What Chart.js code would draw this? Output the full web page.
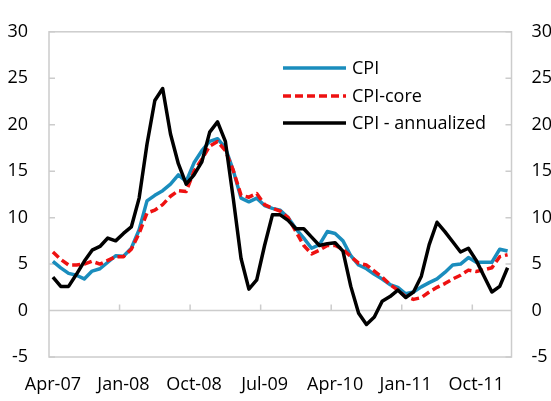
<!DOCTYPE html>
<html lang="en">
<head>
    <meta charset="UTF-8">
    <title>CPI, CPI-core and CPI - annualized</title>
    <script src="https://cdn.jsdelivr.net/npm/chart.js"></script>
    <style>
        body {
            margin: 0;
            padding: 0;
            background: #ffffff;
        }
        canvas {
            display: block;
        }
    </style>
</head>
<body>

    <canvas id="cpiChart" width="551" height="401"></canvas>

    <script>
        // monthly categories, Apr-07 .. Feb-12
        const months = [
            'Apr-07', 'May-07', 'Jun-07', 'Jul-07', 'Aug-07', 'Sep-07', 'Oct-07', 'Nov-07', 'Dec-07',
            'Jan-08', 'Feb-08', 'Mar-08', 'Apr-08', 'May-08', 'Jun-08', 'Jul-08', 'Aug-08', 'Sep-08', 'Oct-08', 'Nov-08', 'Dec-08',
            'Jan-09', 'Feb-09', 'Mar-09', 'Apr-09', 'May-09', 'Jun-09', 'Jul-09', 'Aug-09', 'Sep-09', 'Oct-09', 'Nov-09', 'Dec-09',
            'Jan-10', 'Feb-10', 'Mar-10', 'Apr-10', 'May-10', 'Jun-10', 'Jul-10', 'Aug-10', 'Sep-10', 'Oct-10', 'Nov-10', 'Dec-10',
            'Jan-11', 'Feb-11', 'Mar-11', 'Apr-11', 'May-11', 'Jun-11', 'Jul-11', 'Aug-11', 'Sep-11', 'Oct-11', 'Nov-11', 'Dec-11',
            'Jan-12', 'Feb-12'
        ];

        // values (%)
        const cpi = [
            5.3, 4.6, 4.0, 3.8, 3.4, 4.25, 4.5, 5.2, 5.9,
            5.85, 6.7, 8.7, 11.8, 12.4, 12.9, 13.6, 14.6, 13.9, 15.9, 17.2, 18.2,
            18.5, 17.5, 15.1, 12.1, 11.7, 12.1, 11.3, 11.0, 10.8, 10.0, 8.8, 7.8,
            6.7, 7.1, 8.5, 8.3, 7.5, 5.9, 4.9, 4.5, 3.9, 3.4, 2.8, 2.5,
            1.8, 2.0, 2.55, 3.0, 3.4, 4.1, 4.9, 5.0, 5.7, 5.2, 5.2, 5.2,
            6.6, 6.4
        ];
        const cpiCore = [
            6.3, 5.5, 4.9, 4.9, 5.0, 5.3, 5.0, 5.4, 5.8,
            5.8, 6.6, 8.3, 10.5, 10.8, 11.4, 12.3, 12.9, 12.8, 15.0, 16.3, 17.7,
            18.2, 17.2, 15.1, 12.4, 12.2, 12.6, 11.4, 11.0, 10.7, 10.0, 8.5, 7.0,
            6.1, 6.5, 7.0, 7.0, 6.6, 5.8, 5.1, 4.9, 4.25, 3.6, 2.8, 2.2,
            1.5, 1.2, 1.4, 2.0, 2.5, 2.9, 3.4, 3.8, 4.35, 4.2, 4.4, 4.6,
            5.8, 6.0
        ];
        const cpiAnnualized = [
            3.6, 2.6, 2.6, 3.9, 5.3, 6.5, 6.9, 7.8, 7.5,
            8.3, 9.0, 12.1, 17.9, 22.6, 23.9, 19.0, 15.8, 13.6, 14.6, 16.0, 19.2,
            20.3, 18.2, 12.1, 5.6, 2.3, 3.3, 7.0, 10.3, 10.3, 9.7, 8.8, 8.8,
            7.9, 7.0, 7.2, 7.3, 6.4, 2.6, -0.3, -1.5, -0.7, 1.0, 1.5, 2.2,
            1.4, 2.0, 3.7, 7.1, 9.5, 8.5, 7.4, 6.3, 6.7, 5.4, 3.7, 2.0,
            2.6, 4.6
        ];

        // axis settings
        const yMin = -5;
        const yMax = 30;
        const yStep = 5;
        const labelEvery = 9;   // one label every 9 months

        const fontFamily = '"Open Sans", "Segoe UI", sans-serif';
        const fontSize = 18;
        const axisGray = '#cccccc';

        // plot border, zero line and inward tick marks (Excel style)
        const frame = {
            id: 'frame',
            beforeDatasetsDraw(chart) {
                const { ctx, chartArea: a, scales } = chart;
                const x = scales.x, y = scales.y;
                ctx.save();
                ctx.strokeStyle = axisGray;
                ctx.lineWidth = 1.5;
                ctx.strokeRect(a.left, a.top, a.right - a.left, a.bottom - a.top);

                const y0 = y.getPixelForValue(0);
                ctx.beginPath();
                ctx.moveTo(a.left, y0);
                ctx.lineTo(a.right, y0);
                // y tick marks on both sides, pointing inside
                for (let v = yMin; v <= yMax; v += yStep) {
                    const py = y.getPixelForValue(v);
                    ctx.moveTo(a.left, py);
                    ctx.lineTo(a.left + 6, py);
                    ctx.moveTo(a.right, py);
                    ctx.lineTo(a.right - 6, py);
                }
                // x tick marks between categories, up from the zero line
                const half = (x.getPixelForValue(1) - x.getPixelForValue(0)) / 2;
                for (let i = labelEvery; i < months.length; i += labelEvery) {
                    const px = x.getPixelForValue(i) - half;
                    ctx.moveTo(px, y0);
                    ctx.lineTo(px, y0 - 6);
                }
                ctx.stroke();
                ctx.restore();
            },
            afterDraw(chart) {
                // legend inside the plot, right of centre
                const { ctx } = chart;
                const x1 = 283, x2 = 346, tx = 352;
                const rows = [68, 96, 123];
                ctx.save();
                ctx.font = fontSize + 'px ' + fontFamily;
                ctx.textBaseline = 'middle';
                ctx.fillStyle = '#000000';
                chart.data.datasets.forEach((ds, i) => {
                    ctx.beginPath();
                    ctx.strokeStyle = ds.borderColor;
                    ctx.lineWidth = ds.borderWidth;
                    ctx.setLineDash(ds.borderDash || []);
                    ctx.moveTo(x1, rows[i]);
                    ctx.lineTo(x2, rows[i]);
                    ctx.stroke();
                    ctx.fillText(ds.label, tx, rows[i] + 1);
                });
                ctx.restore();
            }
        };

        const tickFont = { family: fontFamily, size: fontSize };

        const ctx = document.getElementById('cpiChart').getContext('2d');
        new Chart(ctx, {
            type: 'line',
            data: {
                labels: months,
                datasets: [
                    {
                        label: 'CPI',
                        data: cpi,
                        borderColor: '#1a8dbd',
                        borderWidth: 3.5,
                        order: 3
                    },
                    {
                        label: 'CPI-core',
                        data: cpiCore,
                        borderColor: '#ee1111',
                        borderWidth: 3.5,
                        borderDash: [8, 4],
                        order: 2
                    },
                    {
                        label: 'CPI - annualized',
                        data: cpiAnnualized,
                        borderColor: '#000000',
                        borderWidth: 3.5,
                        order: 1
                    }
                ]
            },
            options: {
                responsive: false,
                animation: false,
                layout: { padding: { top: 14, left: 0, right: 0, bottom: 0 } },
                elements: {
                    point: { radius: 0 },
                    line: { tension: 0, borderJoinStyle: 'round', fill: false }
                },
                plugins: {
                    legend: { display: false },
                    tooltip: { enabled: false }
                },
                scales: {
                    x: {
                        type: 'category',
                        offset: true,
                        grid: { display: false, drawTicks: false },
                        border: { display: false },
                        ticks: {
                            autoSkip: false,
                            maxRotation: 0,
                            padding: 17,
                            color: '#000000',
                            font: tickFont,
                            callback: function (val, i) {
                                return i % labelEvery === 0 ? this.getLabelForValue(val) : '';
                            }
                        },
                        afterFit: s => { s.height = 44; }
                    },
                    y: {
                        position: 'left',
                        min: yMin,
                        max: yMax,
                        grid: { display: false, drawTicks: false },
                        border: { display: false },
                        ticks: { stepSize: yStep, padding: 21, color: '#000000', font: tickFont },
                        afterFit: s => { s.width = 49; }
                    },
                    y2: {
                        position: 'right',
                        min: yMin,
                        max: yMax,
                        grid: { display: false, drawTicks: false },
                        border: { display: false },
                        ticks: { stepSize: yStep, padding: 20, color: '#000000', font: tickFont },
                        afterFit: s => { s.width = 39.5; }
                    }
                }
            },
            plugins: [frame]
        });
    </script>

</body>
</html>
